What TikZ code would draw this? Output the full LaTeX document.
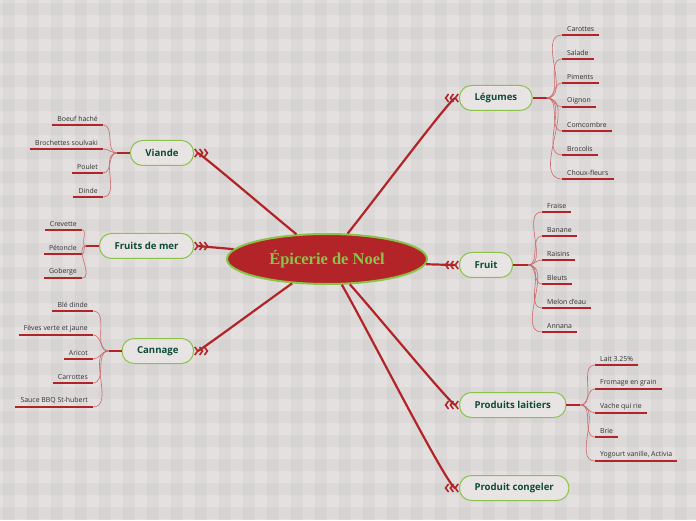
\documentclass[tikz,border=0pt]{standalone}
\usepackage{fontspec}
\setmainfont{Open Sans}
\newfontfamily\titlefont{Liberation Serif}
\usetikzlibrary{arrows.meta,positioning,shapes.geometric}
\definecolor{MapRed}{RGB}{178,36,40}
\definecolor{TwigRed}{RGB}{205,105,108}
\definecolor{LeafGreen}{RGB}{139,195,74}
\definecolor{TopicFill}{RGB}{231,228,227}
\definecolor{TopicText}{RGB}{14,74,56}
\definecolor{LeafText}{RGB}{48,48,48}
\definecolor{PageBase}{RGB}{228,224,224}

\begin{document}
\begin{tikzpicture}[x=1pt,y=1pt,
  topic/.style={draw=LeafGreen,line width=1pt,fill=TopicFill,rounded corners=12pt,minimum height=25pt,inner xsep=15pt,inner ysep=0pt,font=\fontsize{9.6}{11}\selectfont\bfseries,text=TopicText},
  leaf/.style={inner xsep=5pt,inner ysep=3pt,font=\fontsize{6.9}{8}\selectfont,text=LeafText},
  underline/.style={draw=MapRed,line width=1.6pt},
  twig/.style={draw=TwigRed,line width=0.6pt},
  stub/.style={draw=MapRed,line width=2pt},
  branch/.style={draw=MapRed,line width=2.2pt,
    -{Straight Barb[reversed,length=3pt,width=8pt,line width=1.6pt]Straight Barb[reversed,length=3pt,width=8pt,line width=1.6pt]Straight Barb[reversed,length=3pt,width=8pt,line width=1.6pt]}}]
\useasboundingbox (0,0) rectangle (696,520);
% gingham background
\fill[PageBase] (0,0) rectangle (696,520);
\foreach \k in {0,...,29}
  {\fill[black,opacity=0.028] (24*\k+3,0) rectangle ++(12,520);
   \fill[black,opacity=0.028] (0,505-24*\k) rectangle ++(696,12);}

% centre
\node[ellipse,draw=LeafGreen,line width=2pt,fill=MapRed,minimum width=200pt,minimum height=50pt,inner sep=0pt,
  font=\titlefont\fontsize{16.5}{18}\selectfont\bfseries,text=LeafGreen] (epicerie) at (327,261) {Épicerie de Noel};

% main topics
\node[topic,anchor=west] (legumes) at (459,422) {Légumes};
\node[topic,anchor=west] (fruit) at (459,255) {Fruit};
\node[topic,anchor=west] (laitiers) at (459,115) {Produits laitiers};
\node[topic,anchor=west] (congeler) at (459,32) {Produit congeler};
\node[topic,anchor=east] (viande) at (194,367) {Viande};
\node[topic,anchor=east] (mer) at (194,274) {Fruits de mer};
\node[topic,anchor=east] (cannage) at (194,169) {Cannage};

\draw[branch] (epicerie) to[out=51,in=180,out looseness=0.5,in looseness=0.12] (legumes.west);
\draw[branch] (epicerie) to[out=-3,in=180,out looseness=0.5,in looseness=0.12] (fruit.west);
\draw[branch] (epicerie) to[out=-48,in=180,out looseness=0.5,in looseness=0.12] (laitiers.west);
\draw[branch] (epicerie) to[out=-60,in=180,out looseness=0.5,in looseness=0.12] (congeler.west);
\draw[branch] (epicerie) to[out=141,in=0,out looseness=0.5,in looseness=0.12] (viande.east);
\draw[branch] (epicerie) to[out=174,in=0,out looseness=0.5,in looseness=0.12] (mer.east);
\draw[branch] (epicerie) to[out=215,in=0,out looseness=0.5,in looseness=0.12] (cannage.east);

% stubs
\coordinate[right=14pt of legumes] (legS);
\coordinate[right=15pt of fruit] (fruS);
\coordinate[right=14pt of laitiers] (laiS);
\coordinate[left=13pt of viande] (viaS);
\coordinate[left=13pt of mer] (merS);
\coordinate[left=13pt of cannage] (canS);
\draw[stub] (legumes) -- (legS);
\draw[stub] (fruit) -- (fruS);
\draw[stub] (laitiers) -- (laiS);
\draw[stub] (viande) -- (viaS);
\draw[stub] (mer) -- (merS);
\draw[stub] (cannage) -- (canS);

% leaves, right side
\foreach \lab [count=\i] in {Carottes,Salade,Piments,Oignon,Comcombre,Brocolis,Choux-fleurs}
  {\node[leaf,anchor=south west] (leg\i) at (562,509-24*\i) {\lab};
   \draw[underline] (leg\i.south west) -- (leg\i.south east);
   \draw[twig] (legS) to[out=0,in=180] (leg\i.south west);}
\foreach \lab [count=\i] in {Fraise,Banane,Raisins,Bleuts,Melon d'eau,Annana}
  {\node[leaf,anchor=south west] (fru\i) at (542,332-24*\i) {\lab};
   \draw[underline] (fru\i.south west) -- (fru\i.south east);
   \draw[twig] (fruS) to[out=0,in=180] (fru\i.south west);}
\foreach \lab [count=\i] in {Lait 3.25\%,Fromage en grain,Vache qui rie,Brie,{Yogourt vanille, Activia}}
  {\node[leaf,anchor=south west] (lai\i) at (595,179-24*\i) {\lab};
   \draw[underline] (lai\i.south west) -- (lai\i.south east);
   \draw[twig] (laiS) to[out=0,in=180] (lai\i.south west);}

% leaves, left side
\foreach \lab [count=\i] in {Boeuf haché,Brochettes soulvaki,Poulet,Dinde}
  {\node[leaf,anchor=south east] (via\i) at (103,419-24*\i) {\lab};
   \draw[underline] (via\i.south west) -- (via\i.south east);
   \draw[twig] (viaS) to[out=180,in=0] (via\i.south east);}
\foreach \lab [count=\i] in {Crevette,Pétoncle,Goberge}
  {\node[leaf,anchor=south east] (mer\i) at (82,314-24*\i) {\lab};
   \draw[underline] (mer\i.south west) -- (mer\i.south east);
   \draw[twig] (merS) to[out=180,in=0] (mer\i.south east);}
\foreach \lab [count=\i] in {Blé dinde,Fèves verte et jaune,Aricot,Carrottes,Sauce BBQ St-hubert}
  {\node[leaf,anchor=south east] (can\i) at (93,233-24*\i) {\lab};
   \draw[underline] (can\i.south west) -- (can\i.south east);
   \draw[twig] (canS) to[out=180,in=0] (can\i.south east);}
\end{tikzpicture}
\end{document}
